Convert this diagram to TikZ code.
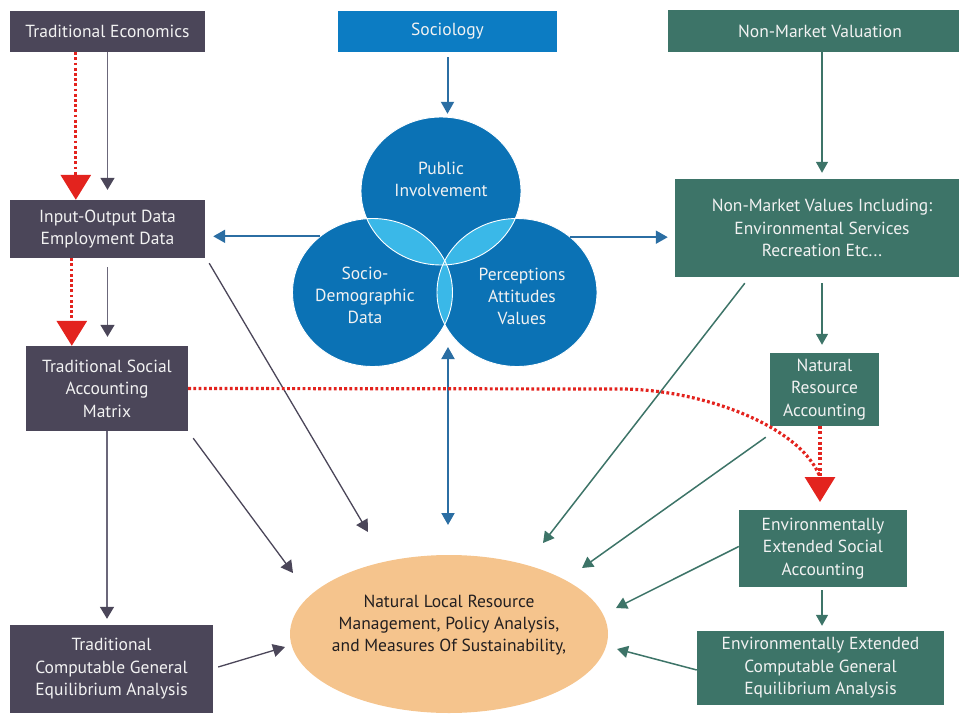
\documentclass[tikz,border=0pt]{standalone}
\usepackage{fontspec}
\setmainfont{PT Sans}
\usetikzlibrary{arrows.meta,shapes.geometric,calc}

\definecolor{econbox}{HTML}{4B4659}
\definecolor{econline}{HTML}{6B677A}
\definecolor{socbox}{HTML}{0C7CC3}
\definecolor{venn}{HTML}{0B72B5}
\definecolor{lens}{HTML}{3AB8E8}
\definecolor{envbox}{HTML}{3D7468}
\definecolor{bluearrow}{HTML}{2B6EA3}
\definecolor{redpath}{HTML}{E3231E}
\definecolor{goalfill}{HTML}{F5C48D}
\definecolor{boxtext}{HTML}{F2F2F2}
\definecolor{goaltext}{HTML}{231F20}

\begin{document}
\begin{tikzpicture}[x=1pt,y=-1pt,
  txt/.style={font=\fontsize{17.5}{22.5}\selectfont, align=center},
  box/.style={txt, rectangle, inner sep=0pt, text=boxtext},
  econ/.style={box, fill=econbox},
  soc/.style={box, fill=socbox},
  env/.style={box, fill=envbox},
  vennc/.style={ellipse, inner sep=0pt, minimum width=160pt, minimum height=148pt, fill=venn},
  vtext/.style={txt, text=boxtext, font=\fontsize{17.5}{22}\selectfont},
  econarrow/.style={draw=econline, line width=1.5pt, -{Triangle[width=14pt,length=12pt,color=econbox]}},
  diag/.style={draw=econbox, line width=1.3pt, -{Triangle[width=13pt,length=12pt]}},
  envarrow/.style={draw=envbox, line width=1.5pt, -{Triangle[width=12pt,length=11pt]}},
  blueline/.style={draw=bluearrow, line width=2pt},
  bluearrowtip/.style={blueline, -{Triangle[width=13pt,length=12pt]}},
  dotted red/.style={draw=redpath, line width=3.2pt, dash pattern=on 2.8pt off 2.4pt},
  bigred/.style={dotted red, -{Triangle[width=30pt,length=25pt,color=redpath]}}
]
\useasboundingbox (0,0) rectangle (959,715);
\clip (0,0) rectangle (959,715);

% ---- left column: traditional economics chain
\node[econ, minimum width=195pt, minimum height=41pt] (tecon) at (107.5,31.5) {Traditional Economics};
\node[econ, minimum width=195pt, minimum height=58pt] (io) at (107.5,229) {Input-Output Data\\Employment Data};
\node[econ, minimum width=162pt, minimum height=85pt] (sam) at (107,388.5) {Traditional Social\\Accounting\\Matrix};
\node[econ, minimum width=203pt, minimum height=88pt] (tcge) at (111.5,669) {Traditional\\Computable General\\Equilibrium Analysis};

% ---- top centre: sociology and the Venn diagram
\node[soc, minimum width=219pt, minimum height=41pt] (soc) at (447.5,31.5) {Sociology};
\node[vennc] (pub) at (441,191) {};
\node[vennc] (sd) at (372.5,292.5) {};
\node[vennc] (perc) at (517,292.5) {};
\begin{scope}
  \clip (441,191) ellipse [x radius=80pt, y radius=74pt];
  \fill[lens] (372.5,292.5) ellipse [x radius=80pt, y radius=74pt];
  \fill[lens] (517,292.5) ellipse [x radius=80pt, y radius=74pt];
\end{scope}
\begin{scope}
  \clip (372.5,292.5) ellipse [x radius=80pt, y radius=74pt];
  \fill[lens] (517,292.5) ellipse [x radius=80pt, y radius=74pt];
\end{scope}
\foreach \c in {pub,sd,perc}
  \draw[white, line width=0.9pt] (\c.center) ellipse [x radius=80pt, y radius=74pt];
\node[vtext] (pubtxt) at (441,179) {Public\\Involvement};
\node[vtext] (sdtxt) at (365,295.5) {Socio-\\Demographic\\Data};
\node[vtext] (perctxt) at (522,296.5) {Perceptions\\Attitudes\\Values};

% ---- right column: non-market valuation chain
\node[env, minimum width=304pt, minimum height=42pt] (nmv) at (820,31) {Non-Market Valuation};
\node[env, minimum width=294pt, minimum height=98pt] (nmvi) at (822,228) {Non-Market Values Including:\\Environmental Services\\Recreation Etc...};
\node[env, minimum width=109pt, minimum height=73pt] (nra) at (824.5,389.5) {Natural\\Resource\\Accounting};
\node[env, minimum width=168pt, minimum height=77pt] (eesa) at (823,548.5) {Environmentally\\Extended Social\\Accounting};
\node[env, minimum width=247pt, minimum height=74pt] (eecge) at (820.5,668) {Environmentally Extended\\Computable General\\Equilibrium Analysis};

% ---- goal
\node[ellipse, fill=goalfill, inner sep=0pt, minimum width=318pt, minimum height=158pt] (goal) at (449,634) {};
\node[txt, text=goaltext, font=\fontsize{17.5}{22}\selectfont] (goaltxt) at (449,625) {Natural Local Resource\\Management, Policy Analysis,\\and Measures Of Sustainability,};

% ---- arrow end points near the goal
\coordinate (g-io) at (368,532);
\coordinate (g-sam) at (293,573);
\coordinate (g-tcge) at (285,647);
\coordinate (g-nmvi) at (543,543);
\coordinate (g-nra) at (582,568);
\coordinate (g-eesa) at (616,608);
\coordinate (g-eecge) at (617,649);
\coordinate (v-top) at (448,347);
\coordinate (v-bot) at (448,525);
\coordinate (bend) at (620,389);
\coordinate (merge) at (820,477);

% ---- left column connectors
\draw[econarrow, shorten >=10pt] (tecon.south) -- (io.north);
\draw[bigred] ($(tecon.south west)+(66,0)$) -- ($(io.north west)+(66,0)$);
\draw[econarrow, shorten <=9pt, shorten >=9pt] (io.south) -- (io.south |- sam.north);
\draw[bigred] ($(io.south west)+(62,0)$) -- ($(sam.north west)+(46,0)$);
\draw[econarrow, shorten >=6pt] (sam.south) -- (sam.south |- tcge.north);

% ---- diagonal connectors into the goal
\draw[diag] ($(io.south east)+(4,5)$) -- (g-io);
\draw[diag] ($(sam.south east)+(5,7)$) -- (g-sam);
\draw[diag] ($(tcge.east)+(5,-2)$) -- (g-tcge);
\draw[envarrow] ($(nmvi.south west)+(70,6)$) -- (g-nmvi);
\draw[envarrow] ($(nra.south west)+(-4,11)$) -- (g-nra);
\draw[envarrow] ($(eesa.west)+(0,-2)$) -- (g-eesa);
\draw[envarrow] ($(eecge.west)+(0,2)$) -- (g-eecge);

% ---- sociology connectors
\draw[bluearrowtip, shorten <=5pt, shorten >=3pt] (soc.south) -- (soc.south |- pub.north);
\draw[bluearrowtip, shorten >=8pt] (sd.133.6) -- (io.east |- sd.133.6);
\draw[bluearrowtip, shorten >=7pt] (perc.46.4) -- (nmvi.west |- perc.46.4);
\draw[blueline, {Triangle[width=13pt,length=12pt]}-{Triangle[width=13pt,length=12pt]}] (v-top) -- (v-bot);

% ---- right column connectors
\draw[envarrow, shorten >=6pt] (nmvi.north |- nmv.south) -- (nmvi.north);
\draw[envarrow, shorten <=6pt, shorten >=8pt] (nmvi.south) -- (nmvi.south |- nra.north);
\draw[envarrow, shorten <=3pt, shorten >=5pt] ($(eesa.south)+(-1,0)$) -- ($(eesa.south |- eecge.north)+(-1,0)$);

% ---- red dotted path from the social accounting matrix
\draw[dotted red] (sam.east) -- (bend) .. controls (700,389) and (800,425) .. (merge);
\draw[bigred] ($(nra.south)+(-4.5,0)$) -- ($(merge)+(0,25)$);
\end{tikzpicture}
\end{document}
